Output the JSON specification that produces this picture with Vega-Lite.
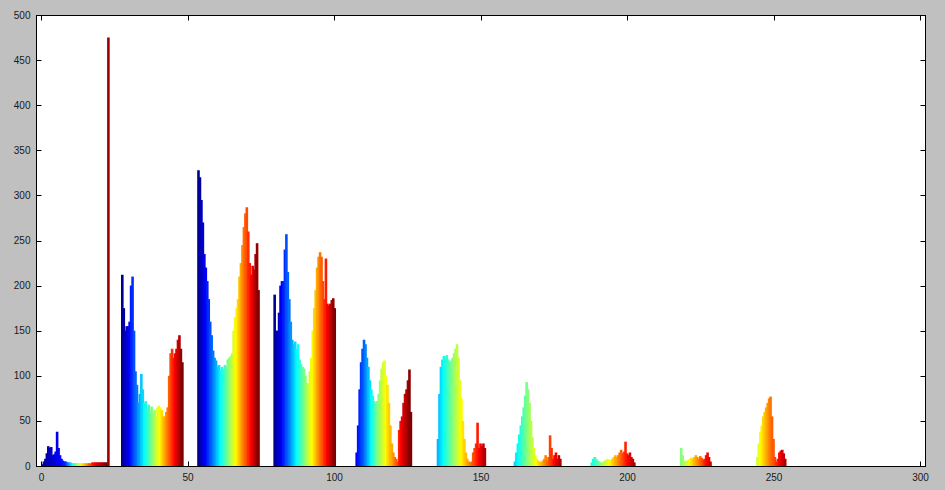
{
"$schema": "https://vega.github.io/schema/vega-lite/v6.json",
"width": 889, "height": 451,
"autosize": {"type": "none"},
"padding": {"left": 36, "top": 15, "right": 20, "bottom": 24},
"background": "#c0c0c0",
"config": {
  "view": {"fill": "#ffffff", "stroke": "#000000", "strokeWidth": 1},
  "axis": {"grid": false, "title": null, "domainColor": "#000000", "tickColor": "#000000", "labelFont": "Liberation Sans", "labelFontSize": 10, "labelColor": "#1a1a1a", "tickSize": -5, "labelPadding": 11}
},
"data": {"values": [
{"x":0.5,"y":2,"c":0},{"x":1,"y":5,"c":0.01},{"x":1.5,"y":8,"c":0.02},{"x":2,"y":14,"c":0.03},{"x":2.5,"y":22,"c":0.04},{"x":3,"y":20,"c":0.05},{"x":3.5,"y":21,"c":0.06},{"x":4,"y":12,"c":0.07},{"x":4.5,"y":13,"c":0.08},{"x":5,"y":16,"c":0.09},{"x":5.5,"y":38,"c":0.1},{"x":6,"y":20,"c":0.11},{"x":6.5,"y":12,"c":0.12},{"x":7,"y":8,"c":0.13},{"x":7.5,"y":6,"c":0.14},{"x":8,"y":5,"c":0.15},{"x":8.5,"y":5,"c":0.17},{"x":9,"y":4,"c":0.22},{"x":9.5,"y":4,"c":0.26},{"x":10,"y":4,"c":0.31},{"x":10.5,"y":3,"c":0.35},{"x":11,"y":3,"c":0.39},{"x":11.5,"y":3,"c":0.43},{"x":12,"y":3,"c":0.48},{"x":12.5,"y":3,"c":0.52},{"x":13,"y":3,"c":0.56},{"x":13.5,"y":3,"c":0.6},{"x":14,"y":3,"c":0.64},{"x":14.5,"y":3,"c":0.67},{"x":15,"y":3,"c":0.69},{"x":15.5,"y":3,"c":0.72},{"x":16,"y":3,"c":0.75},{"x":16.5,"y":3,"c":0.78},{"x":17,"y":3,"c":0.81},{"x":17.5,"y":4,"c":0.84},{"x":18,"y":4,"c":0.86},{"x":18.5,"y":4,"c":0.88},{"x":19,"y":4,"c":0.9},{"x":19.5,"y":4,"c":0.91},{"x":20,"y":4,"c":0.93},{"x":20.5,"y":4,"c":0.94},{"x":21,"y":4,"c":0.95},{"x":21.5,"y":4,"c":0.97},{"x":22,"y":4,"c":0.98},{"x":22.5,"y":4,"c":1},{"x":23,"y":475,"c":0.97},
{"x":27.75,"y":212,"c":0},{"x":28.25,"y":175,"c":0.02},{"x":28.75,"y":150,"c":0.05},{"x":29.25,"y":155,"c":0.07},{"x":29.75,"y":155,"c":0.1},{"x":30.25,"y":160,"c":0.12},{"x":30.75,"y":200,"c":0.15},{"x":31.25,"y":210,"c":0.17},{"x":31.75,"y":150,"c":0.2},{"x":32.25,"y":105,"c":0.22},{"x":32.75,"y":90,"c":0.24},{"x":33.25,"y":70,"c":0.27},{"x":33.75,"y":80,"c":0.29},{"x":34.25,"y":102,"c":0.32},{"x":34.75,"y":85,"c":0.34},{"x":35.25,"y":70,"c":0.37},{"x":35.75,"y":72,"c":0.39},{"x":36.25,"y":65,"c":0.41},{"x":36.75,"y":68,"c":0.44},{"x":37.25,"y":60,"c":0.46},{"x":37.75,"y":66,"c":0.49},{"x":38.25,"y":58,"c":0.51},{"x":38.75,"y":62,"c":0.54},{"x":39.25,"y":55,"c":0.56},{"x":39.75,"y":65,"c":0.59},{"x":40.25,"y":67,"c":0.61},{"x":40.75,"y":65,"c":0.63},{"x":41.25,"y":62,"c":0.66},{"x":41.75,"y":55,"c":0.68},{"x":42.25,"y":55,"c":0.71},{"x":42.75,"y":60,"c":0.73},{"x":43.25,"y":65,"c":0.76},{"x":43.75,"y":100,"c":0.78},{"x":44.25,"y":125,"c":0.8},{"x":44.75,"y":130,"c":0.83},{"x":45.25,"y":120,"c":0.85},{"x":45.75,"y":125,"c":0.88},{"x":46.25,"y":130,"c":0.9},{"x":46.75,"y":140,"c":0.93},{"x":47.25,"y":145,"c":0.95},{"x":47.75,"y":130,"c":0.98},{"x":48.25,"y":115,"c":1},
{"x":53.75,"y":328,"c":0},{"x":54.25,"y":320,"c":0.02},{"x":54.75,"y":295,"c":0.05},{"x":55.25,"y":270,"c":0.07},{"x":55.75,"y":235,"c":0.1},{"x":56.25,"y":220,"c":0.12},{"x":56.75,"y":205,"c":0.15},{"x":57.25,"y":185,"c":0.17},{"x":57.75,"y":160,"c":0.2},{"x":58.25,"y":145,"c":0.22},{"x":58.75,"y":128,"c":0.24},{"x":59.25,"y":120,"c":0.27},{"x":59.75,"y":117,"c":0.29},{"x":60.25,"y":110,"c":0.32},{"x":60.75,"y":112,"c":0.34},{"x":61.25,"y":106,"c":0.37},{"x":61.75,"y":110,"c":0.39},{"x":62.25,"y":108,"c":0.41},{"x":62.75,"y":112,"c":0.44},{"x":63.25,"y":110,"c":0.46},{"x":63.75,"y":118,"c":0.49},{"x":64.25,"y":120,"c":0.51},{"x":64.75,"y":122,"c":0.54},{"x":65.25,"y":125,"c":0.56},{"x":65.75,"y":150,"c":0.59},{"x":66.25,"y":165,"c":0.61},{"x":66.75,"y":175,"c":0.63},{"x":67.25,"y":185,"c":0.66},{"x":67.75,"y":210,"c":0.68},{"x":68.25,"y":225,"c":0.71},{"x":68.75,"y":245,"c":0.73},{"x":69.25,"y":265,"c":0.76},{"x":69.75,"y":280,"c":0.78},{"x":70.25,"y":287,"c":0.8},{"x":70.75,"y":260,"c":0.83},{"x":71.25,"y":225,"c":0.85},{"x":71.75,"y":212,"c":0.88},{"x":72.25,"y":222,"c":0.9},{"x":72.75,"y":218,"c":0.93},{"x":73.25,"y":235,"c":0.95},{"x":73.75,"y":247,"c":0.98},{"x":74.25,"y":195,"c":1},
{"x":79.75,"y":190,"c":0},{"x":80.25,"y":150,"c":0.02},{"x":80.75,"y":150,"c":0.05},{"x":81.25,"y":170,"c":0.07},{"x":81.75,"y":200,"c":0.1},{"x":82.25,"y":205,"c":0.12},{"x":82.75,"y":205,"c":0.15},{"x":83.25,"y":240,"c":0.17},{"x":83.75,"y":257,"c":0.2},{"x":84.25,"y":215,"c":0.22},{"x":84.75,"y":185,"c":0.24},{"x":85.25,"y":160,"c":0.27},{"x":85.75,"y":140,"c":0.29},{"x":86.25,"y":135,"c":0.32},{"x":86.75,"y":138,"c":0.34},{"x":87.25,"y":130,"c":0.37},{"x":87.75,"y":135,"c":0.39},{"x":88.25,"y":118,"c":0.41},{"x":88.75,"y":113,"c":0.44},{"x":89.25,"y":110,"c":0.46},{"x":89.75,"y":108,"c":0.49},{"x":90.25,"y":100,"c":0.51},{"x":90.75,"y":92,"c":0.54},{"x":91.25,"y":90,"c":0.56},{"x":91.75,"y":105,"c":0.59},{"x":92.25,"y":120,"c":0.61},{"x":92.75,"y":150,"c":0.63},{"x":93.25,"y":175,"c":0.66},{"x":93.75,"y":195,"c":0.68},{"x":94.25,"y":220,"c":0.71},{"x":94.75,"y":232,"c":0.73},{"x":95.25,"y":237,"c":0.76},{"x":95.75,"y":232,"c":0.78},{"x":96.25,"y":205,"c":0.8},{"x":96.75,"y":185,"c":0.83},{"x":97.25,"y":230,"c":0.85},{"x":97.75,"y":180,"c":0.88},{"x":98.25,"y":178,"c":0.9},{"x":98.75,"y":180,"c":0.93},{"x":99.25,"y":184,"c":0.95},{"x":99.75,"y":186,"c":0.98},{"x":100.25,"y":175,"c":1},
{"x":107.75,"y":15,"c":0.12},{"x":108.25,"y":45,"c":0.14},{"x":108.75,"y":85,"c":0.16},{"x":109.25,"y":115,"c":0.18},{"x":109.75,"y":130,"c":0.2},{"x":110.25,"y":140,"c":0.22},{"x":110.75,"y":135,"c":0.25},{"x":111.25,"y":120,"c":0.28},{"x":111.75,"y":110,"c":0.31},{"x":112.25,"y":95,"c":0.34},{"x":112.75,"y":85,"c":0.37},{"x":113.25,"y":78,"c":0.4},{"x":113.75,"y":72,"c":0.43},{"x":114.25,"y":70,"c":0.46},{"x":114.75,"y":72,"c":0.49},{"x":115.25,"y":80,"c":0.51},{"x":115.75,"y":95,"c":0.53},{"x":116.25,"y":108,"c":0.56},{"x":116.75,"y":115,"c":0.58},{"x":117.25,"y":117,"c":0.6},{"x":117.75,"y":100,"c":0.62},{"x":118.25,"y":90,"c":0.65},{"x":118.75,"y":70,"c":0.67},{"x":119.25,"y":45,"c":0.69},{"x":119.75,"y":25,"c":0.71},{"x":120.25,"y":15,"c":0.73},{"x":120.75,"y":10,"c":0.76},{"x":121.25,"y":8,"c":0.78},{"x":121.75,"y":5,"c":0.8},{"x":122.25,"y":40,"c":0.84},{"x":122.75,"y":50,"c":0.87},{"x":123.25,"y":55,"c":0.89},{"x":123.75,"y":70,"c":0.91},{"x":124.25,"y":80,"c":0.93},{"x":124.75,"y":85,"c":0.95},{"x":125.25,"y":95,"c":0.97},{"x":125.75,"y":107,"c":0.99},{"x":126.25,"y":60,"c":1},
{"x":135.5,"y":30,"c":0.3},{"x":136,"y":80,"c":0.32},{"x":136.5,"y":110,"c":0.34},{"x":137,"y":118,"c":0.36},{"x":137.5,"y":122,"c":0.38},{"x":138,"y":120,"c":0.4},{"x":138.5,"y":123,"c":0.42},{"x":139,"y":118,"c":0.44},{"x":139.5,"y":115,"c":0.46},{"x":140,"y":117,"c":0.48},{"x":140.5,"y":120,"c":0.5},{"x":141,"y":125,"c":0.52},{"x":141.5,"y":130,"c":0.54},{"x":142,"y":135,"c":0.56},{"x":142.5,"y":120,"c":0.58},{"x":143,"y":95,"c":0.6},{"x":143.5,"y":75,"c":0.63},{"x":144,"y":50,"c":0.65},{"x":144.5,"y":30,"c":0.67},{"x":145,"y":15,"c":0.69},{"x":145.5,"y":8,"c":0.71},{"x":146,"y":5,"c":0.73},{"x":146.5,"y":4,"c":0.75},{"x":147,"y":5,"c":0.77},{"x":147.5,"y":15,"c":0.79},{"x":148,"y":20,"c":0.81},{"x":148.5,"y":25,"c":0.83},{"x":149,"y":48,"c":0.85},{"x":149.5,"y":20,"c":0.87},{"x":150,"y":25,"c":0.89},{"x":150.5,"y":22,"c":0.91},{"x":151,"y":25,"c":0.93},{"x":151.5,"y":20,"c":0.95},
{"x":161.75,"y":5,"c":0.33},{"x":162.25,"y":15,"c":0.35},{"x":162.75,"y":25,"c":0.37},{"x":163.25,"y":35,"c":0.39},{"x":163.75,"y":45,"c":0.41},{"x":164.25,"y":55,"c":0.43},{"x":164.75,"y":65,"c":0.45},{"x":165.25,"y":78,"c":0.47},{"x":165.75,"y":93,"c":0.49},{"x":166.25,"y":85,"c":0.51},{"x":166.75,"y":70,"c":0.53},{"x":167.25,"y":50,"c":0.55},{"x":167.75,"y":32,"c":0.57},{"x":168.25,"y":20,"c":0.59},{"x":168.75,"y":12,"c":0.61},{"x":169.25,"y":8,"c":0.63},{"x":169.75,"y":6,"c":0.65},{"x":170.25,"y":5,"c":0.67},{"x":170.75,"y":4,"c":0.69},{"x":171.25,"y":6,"c":0.71},{"x":171.75,"y":8,"c":0.73},{"x":172.25,"y":12,"c":0.75},{"x":172.75,"y":6,"c":0.77},{"x":173.25,"y":10,"c":0.79},{"x":173.75,"y":34,"c":0.81},{"x":174.25,"y":20,"c":0.83},{"x":174.75,"y":8,"c":0.85},{"x":175.25,"y":12,"c":0.87},{"x":175.75,"y":15,"c":0.89},{"x":176.25,"y":8,"c":0.91},{"x":176.75,"y":12,"c":0.93},{"x":177.25,"y":8,"c":0.95},
{"x":188,"y":4,"c":0.38},{"x":188.5,"y":8,"c":0.4},{"x":189,"y":10,"c":0.42},{"x":189.5,"y":8,"c":0.44},{"x":190,"y":6,"c":0.46},{"x":190.5,"y":5,"c":0.48},{"x":191,"y":4,"c":0.5},{"x":191.5,"y":3,"c":0.52},{"x":192,"y":5,"c":0.54},{"x":192.5,"y":6,"c":0.56},{"x":193,"y":7,"c":0.58},{"x":193.5,"y":8,"c":0.6},{"x":194,"y":7,"c":0.62},{"x":194.5,"y":6,"c":0.64},{"x":195,"y":8,"c":0.66},{"x":195.5,"y":10,"c":0.68},{"x":196,"y":12,"c":0.7},{"x":196.5,"y":10,"c":0.72},{"x":197,"y":12,"c":0.74},{"x":197.5,"y":15,"c":0.76},{"x":198,"y":18,"c":0.78},{"x":198.5,"y":14,"c":0.8},{"x":199,"y":16,"c":0.82},{"x":199.5,"y":27,"c":0.84},{"x":200,"y":14,"c":0.86},{"x":200.5,"y":12,"c":0.88},{"x":201,"y":15,"c":0.9},{"x":201.5,"y":10,"c":0.92},{"x":202,"y":8,"c":0.94},{"x":202.5,"y":4,"c":0.96},
{"x":218.5,"y":20,"c":0.5},{"x":219,"y":12,"c":0.52},{"x":219.5,"y":6,"c":0.54},{"x":220,"y":5,"c":0.56},{"x":220.5,"y":6,"c":0.58},{"x":221,"y":7,"c":0.6},{"x":221.5,"y":8,"c":0.63},{"x":222,"y":9,"c":0.65},{"x":222.5,"y":8,"c":0.67},{"x":223,"y":10,"c":0.69},{"x":223.5,"y":12,"c":0.71},{"x":224,"y":10,"c":0.73},{"x":224.5,"y":8,"c":0.75},{"x":225,"y":11,"c":0.77},{"x":225.5,"y":9,"c":0.79},{"x":226,"y":7,"c":0.81},{"x":226.5,"y":8,"c":0.84},{"x":227,"y":12,"c":0.86},{"x":227.5,"y":15,"c":0.88},{"x":228,"y":10,"c":0.9},{"x":228.5,"y":5,"c":0.92},
{"x":244.5,"y":10,"c":0.58},{"x":245,"y":25,"c":0.6},{"x":245.5,"y":38,"c":0.62},{"x":246,"y":45,"c":0.64},{"x":246.5,"y":55,"c":0.66},{"x":247,"y":60,"c":0.68},{"x":247.5,"y":65,"c":0.7},{"x":248,"y":70,"c":0.72},{"x":248.5,"y":75,"c":0.74},{"x":249,"y":77,"c":0.76},{"x":249.5,"y":55,"c":0.78},{"x":250,"y":30,"c":0.79},{"x":250.5,"y":10,"c":0.81},{"x":251,"y":5,"c":0.83},{"x":251.5,"y":8,"c":0.85},{"x":252,"y":15,"c":0.87},{"x":252.5,"y":17,"c":0.89},{"x":253,"y":18,"c":0.91},{"x":253.5,"y":14,"c":0.93},{"x":254,"y":8,"c":0.95}
]},
"layer": [
  {
    "mark": {"type": "bar", "orient": "vertical", "width": 2.6},
    "encoding": {
      "x": {"field": "x", "type": "quantitative", "scale": {"domain": [0, 300], "nice": false, "zero": false}, "axis": {"orient": "bottom", "values": [0, 50, 100, 150, 200, 250, 300]}},
      "y": {"field": "y", "type": "quantitative", "scale": {"domain": [0, 500], "nice": false}, "axis": {"orient": "left", "values": [0, 50, 100, 150, 200, 250, 300, 350, 400, 450, 500]}},
      "color": {"field": "c", "type": "quantitative", "scale": {"domain": [0, 0.125, 0.375, 0.625, 0.875, 1], "range": ["#00008f", "#0000ff", "#00ffff", "#ffff00", "#ff0000", "#800000"], "interpolate": "rgb"}, "legend": null}
    }
  },
  {
    "mark": {"type": "point", "opacity": 0, "size": 0},
    "encoding": {
      "x": {"field": "x", "type": "quantitative", "axis": {"orient": "top", "values": [0, 50, 100, 150, 200, 250, 300], "labels": false}},
      "y": {"field": "y", "type": "quantitative", "axis": {"orient": "right", "values": [0, 50, 100, 150, 200, 250, 300, 350, 400, 450, 500], "labels": false}}
    }
  }
],
"resolve": {"axis": {"x": "independent", "y": "independent"}}
}
